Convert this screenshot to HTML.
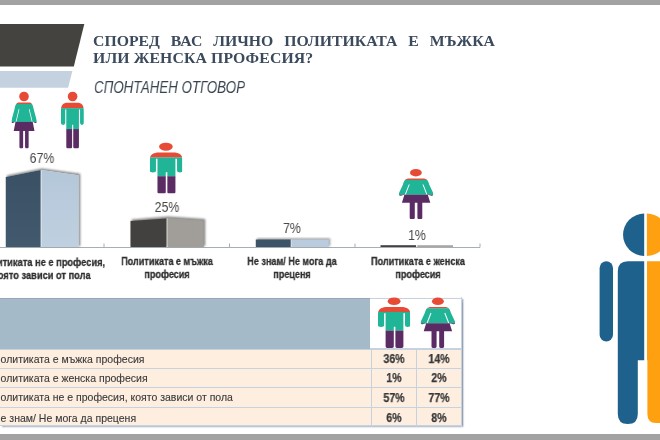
<!DOCTYPE html>
<html>
<head>
<meta charset="utf-8">
<style>
html,body{margin:0;padding:0;}
body{width:660px;height:440px;position:relative;overflow:hidden;background:#fff;font-family:"Liberation Sans",sans-serif;}
.abs{position:absolute;}
#topbar{left:0;top:0;width:660px;height:5px;background:#a2a2a2;}
#botbar{left:0;top:434.4px;width:660px;height:6px;background:#a2a2a2;}
#title{will-change:transform;left:93px;top:32.6px;width:372.2px;font-family:"Liberation Serif",serif;font-weight:bold;font-size:14.6px;line-height:16.7px;color:#3b4a5c;white-space:nowrap;transform-origin:0 0;transform:scaleX(1.08);}
#title .l1{display:block;width:372.2px;text-align:justify;text-align-last:justify;white-space:normal;}
#title .l2{display:block;letter-spacing:0.11px;}
#sub{will-change:transform;left:94px;top:78px;font-style:italic;font-size:16.2px;line-height:18px;color:#36434f;white-space:nowrap;transform-origin:0 0;transform:scaleX(0.822);}
.pct{will-change:transform;font-size:14.2px;line-height:12px;color:#484848;white-space:nowrap;text-align:center;width:60px;transform:scaleX(0.87);transform-origin:50% 0;}
.lab{will-change:transform;-webkit-text-stroke:0.3px #2e2e2e;font-weight:bold;font-size:11px;line-height:13px;color:#2e2e2e;text-align:center;white-space:nowrap;width:200px;transform:scaleX(0.825);transform-origin:50% 0;}
.row{left:0;width:462px;background:#fdeee0;border-top:1px solid #c6d3df;box-sizing:border-box;}
.rt{-webkit-text-stroke:0.12px #3a3a3a;position:absolute;left:-7px;top:0;font-size:10.5px;color:#3a3a3a;white-space:nowrap;will-change:transform;}
.num{will-change:transform;-webkit-text-stroke:0.25px #383838;position:absolute;top:0.3px;width:46px;text-align:center;font-weight:bold;font-size:12px;color:#383838;transform:scaleX(0.88);}
</style>
</head>
<body>
<div class="abs" id="topbar"></div>
<div class="abs" id="botbar"></div>

<!-- main graphics layer -->
<svg class="abs" style="left:0;top:0" width="660" height="440" viewBox="0 0 660 440">
  <defs>
    <!-- male icon: 32.4 x 50 -->
    <symbol id="male" viewBox="0 0 32.4 50" preserveAspectRatio="none">
      <clipPath id="mclip"><path d="M0,16.8 C0,11.5 3,9.5 9.5,9.5 L22.9,9.5 C29.4,9.5 32.4,11.5 32.4,16.8 L32.4,27.6 Q32.4,29.2 29.7,29.2 Q27,29.2 27,27.6 L27,15.6 L25.4,15.6 L25.4,48.6 Q25.4,50 23.8,50 L19,50 Q17.4,50 17.4,48.6 L17.4,29 L15.8,29 L15.8,48.6 Q15.8,50 14.2,50 L9.2,50 Q7.6,50 7.6,48.6 L7.6,15.6 L6.1,15.6 L6.1,27.6 Q6.1,29.2 3.05,29.2 Q0,29.2 0,27.6 Z"/></clipPath>
      <g clip-path="url(#mclip)">
        <rect x="0" y="8" width="32.4" height="6.5" fill="#e74b36"/>
        <rect x="0" y="14.4" width="32.4" height="18.6" fill="#1fb596"/>
        <rect x="0" y="32.9" width="32.4" height="18" fill="#5b2c64"/>
      </g>
    </symbol>
    <!-- female icon: 35 x 50 -->
    <symbol id="female" viewBox="0 0 35 50" preserveAspectRatio="none">
      <clipPath id="fclip"><path d="M10.5,9.5 L24.5,9.5 C28,9.5 29.6,11.5 30.6,15.5 L34.7,24.2 Q35.4,26.8 33,26.6 L29.2,25.6 L31.7,33.6 L23.7,33.6 L23.7,48.6 Q23.7,50 22.3,50 L20.2,50 Q18.8,50 18.8,48.6 L18.8,33.6 L16.2,33.6 L16.2,48.6 Q16.2,50 14.8,50 L12.5,50 Q11.1,50 11.1,48.6 L11.1,33.6 L3.3,33.6 L5.8,25.6 L2,26.6 Q-0.4,26.8 0.3,24.2 L4.4,15.5 C5.4,11.5 7,9.5 10.5,9.5 Z"/></clipPath>
      <g clip-path="url(#fclip)">
        <rect x="0" y="8" width="35" height="3" fill="#e74b36"/>
        <rect x="0" y="10.8" width="35" height="14.9" fill="#1fb596"/>
        <rect x="0" y="25.6" width="35" height="25" fill="#5b2c64"/>
      </g>
      <line x1="10.6" y1="15.4" x2="6.7" y2="25.4" stroke="#fff" stroke-width="1"/>
      <line x1="24.4" y1="15.4" x2="28.3" y2="25.4" stroke="#fff" stroke-width="1"/>
    </symbol>
    <!-- female icon: 35 x 50 -->
    <symbol id="femaleT" viewBox="0 0 35 50" preserveAspectRatio="none">
      <clipPath id="fclipT"><path d="M10.5,9.5 L24.5,9.5 C28,9.5 29.6,11.5 30.6,15.5 L34.7,25.2 Q35.4,27.8 33,27.6 L29.2,26.6 L31.7,34.7 L23.7,34.7 L23.7,48.6 Q23.7,50 22.3,50 L20.2,50 Q18.8,50 18.8,48.6 L18.8,34.7 L16.2,34.7 L16.2,48.6 Q16.2,50 14.8,50 L12.5,50 Q11.1,50 11.1,48.6 L11.1,34.7 L3.3,34.7 L5.8,26.6 L2,27.6 Q-0.4,27.8 0.3,25.2 L4.4,15.5 C5.4,11.5 7,9.5 10.5,9.5 Z"/></clipPath>
      <g clip-path="url(#fclipT)">
        <rect x="0" y="8" width="35" height="3" fill="#e74b36"/>
        <rect x="0" y="10.8" width="35" height="16" fill="#1fb596"/>
        <rect x="0" y="26.7" width="35" height="25" fill="#5b2c64"/>
      </g>
      <line x1="10.6" y1="15.4" x2="6.5" y2="26.4" stroke="#fff" stroke-width="1"/>
      <line x1="24.4" y1="15.4" x2="28.5" y2="26.4" stroke="#fff" stroke-width="1"/>
    </symbol>
    <linearGradient id="gDark" x1="0" y1="0" x2="0" y2="1"><stop offset="0" stop-color="#3a5064"/><stop offset="1" stop-color="#42596e"/></linearGradient>
    <linearGradient id="gLight" x1="0" y1="0" x2="0" y2="1"><stop offset="0" stop-color="#b4c7d9"/><stop offset="1" stop-color="#bfd0e0"/></linearGradient>
    <clipPath id="b1c"><polygon points="5.8,177 40.6,170 41.6,170 78.7,175.3 78.7,247 5.8,247"/></clipPath>
    <filter id="sh" x="-10%" y="-10%" width="130%" height="130%"><feGaussianBlur stdDeviation="0.9"/></filter>
  </defs>

  <!-- top-left trapezoids -->
  <polygon points="0,24 84.3,24 73.8,66.6 0,66.6" fill="#45433f"/>
  <polygon points="0,71 72.4,71 68.1,87.8 0,87.8" fill="#c4d2e0"/>

  <!-- axis -->
  <line x1="0" y1="247.5" x2="480" y2="247.5" stroke="#a6aeb8" stroke-width="1"/>
  <g stroke="#a6aeb8" stroke-width="1">
    <line x1="104" y1="243.5" x2="104" y2="247.5"/>
    <line x1="229.5" y1="243.5" x2="229.5" y2="247.5"/>
    <line x1="355" y1="243.5" x2="355" y2="247.5"/>
    <line x1="480" y1="243.5" x2="480" y2="247.5"/>
  </g>

  <!-- bar 1 -->
  <polygon points="7,175.5 42,168.5 80.2,173.8 80.2,246 7,246" fill="#555" opacity="0.72" filter="url(#sh)"/>
  <rect x="5.8" y="169" width="73" height="78" fill="#e4e9ee" clip-path="url(#b1c)"/>
  <polygon points="5.8,177 40.6,170 40.6,247 5.8,247" fill="url(#gDark)"/>
  <polygon points="41.6,170 78.7,175.3 78.7,247 41.6,247" fill="url(#gLight)"/>
  <!-- bar 2 -->
  <polygon points="131.7,219.5 168,216.6 205.2,219 205.2,246 131.7,246" fill="#555" opacity="0.72" filter="url(#sh)"/>
  <polygon points="130.5,221 166.6,218.4 166.6,247 130.5,247" fill="#43413f"/>
  <polygon points="166.6,218.4 167.8,218 167.8,247 166.6,247" fill="#d9d8d6"/>
  <polygon points="167.8,218 203.8,220.4 203.8,247 167.8,247" fill="#a19d98"/>
  <!-- bar 3 -->
  <polygon points="257,238.3 330.2,238.3 330.2,246 257,246" fill="#555" opacity="0.55" filter="url(#sh)"/>
  <rect x="255.8" y="239.5" width="35" height="7.5" fill="#3d5468"/>
  <rect x="290.8" y="239.5" width="1" height="7.5" fill="#e4e9ee"/>
  <rect x="291.8" y="239.5" width="37" height="7.5" fill="#b9cbdc"/>
  <!-- bar 4 -->
  <rect x="380.5" y="245.2" width="35.6" height="1.8" fill="#43413f"/>
  <rect x="417.3" y="245.2" width="35.7" height="1.8" fill="#a9a7a4"/>

  <!-- icons -->
  <use href="#femaleT" x="11.3" y="91.7" width="25.6" height="56.7"/>
  <circle cx="24" cy="96.5" r="4.8" fill="#e74b36"/>
  <use href="#male" x="60.9" y="91.9" width="23" height="56.5"/>
  <circle cx="72.6" cy="96.5" r="4.8" fill="#e74b36"/>
  <use href="#male" x="149.8" y="142.8" width="32.7" height="50.8"/>
  <ellipse cx="165.9" cy="146.7" rx="6.8" ry="4" fill="#e74b36"/>
  <use href="#female" x="398.6" y="169.1" width="35" height="50"/>
  <ellipse cx="415.9" cy="172.7" rx="5.9" ry="3.7" fill="#e74b36"/>

  <!-- big figure right -->
  <g fill="#1f618d">
    <path d="M644.2,213.6 A21.15,21.15 0 0 0 644.2,255.9 Z"/>
    <rect x="599.6" y="261.2" width="13.4" height="80.3" rx="6.7" ry="6.7"/>
    <path d="M617.8,271.2 Q617.8,261.2 627.8,261.2 L644.2,261.2 L644.2,360.2 L637.8,360.2 L637.8,414 Q637.8,424 627.8,424 Q617.8,424 617.8,414 Z"/>
  </g>
  <g fill="#ffa010">
    <path d="M646.9,213.6 A21.15,21.15 0 0 1 646.9,255.9 Z"/>
    <path d="M647,261.2 L660,261.2 L660,423 L656,423 Q647.4,423 647.4,414 L647.4,360.2 L647,360.2 Z"/>
  </g>
</svg>

<!-- percent labels -->
<div class="abs pct" style="left:11.7px;top:152px;">67%</div>
<div class="abs pct" style="left:137px;top:200.8px;">25%</div>
<div class="abs pct" style="left:262.3px;top:221.7px;">7%</div>
<div class="abs pct" style="left:387.3px;top:228.5px;">1%</div>

<!-- title -->
<div class="abs" id="title"><span class="l1">СПОРЕД ВАС ЛИЧНО ПОЛИТИКАТА Е МЪЖКА</span><span class="l2">ИЛИ ЖЕНСКА ПРОФЕСИЯ?</span></div>
<div class="abs" id="sub">СПОНТАНЕН ОТГОВОР</div>

<!-- category labels -->
<div class="abs lab" style="left:-58.2px;top:255.8px;transform:scaleX(0.845);">Политиката не е професия,<br>която зависи от пола</div>
<div class="abs lab" style="left:66.8px;top:255.4px;">Политиката е мъжка<br>професия</div>
<div class="abs lab" style="left:192.3px;top:255.4px;">Не знам/ Не мога да<br>преценя</div>
<div class="abs lab" style="left:317.5px;top:255.4px;">Политиката е женска<br>професия</div>

<!-- table -->
<div class="abs" style="left:0;top:297.9px;width:462px;height:128.4px;box-shadow:1.5px 1px 1.5px rgba(80,100,130,0.6);background:#fdeee0;"></div>
<div class="abs" style="left:0;top:297.9px;width:370.4px;height:51.3px;background:#a5bac9;border-top:1px solid #9ca6b8;box-sizing:border-box;"></div>
<div class="abs" style="left:370.4px;top:297.9px;width:91.6px;height:51.3px;background:#fff;box-sizing:border-box;border:1px solid #c6d3df;border-left:none;"></div>
<div class="abs" style="left:461px;top:297.4px;width:1px;height:129.4px;background:#c6d3df;"></div>

<div class="abs row" style="top:349.1px;height:18.9px;line-height:18.4px;"><span class="rt">Политиката е мъжка професия</span><span class="num" style="left:370.5px">36%</span><span class="num" style="left:416px">14%</span></div>
<div class="abs row" style="top:368px;height:19.4px;line-height:19.8px;"><span class="rt">Политиката е женска професия</span><span class="num" style="left:370.5px">1%</span><span class="num" style="left:416px">2%</span></div>
<div class="abs row" style="top:387.4px;height:19.8px;line-height:19.2px;"><span class="rt">Политиката не е професия, която зависи от пола</span><span class="num" style="left:370.5px">57%</span><span class="num" style="left:416px">77%</span></div>
<div class="abs row" style="top:407.2px;height:19.1px;line-height:20.6px;border-bottom:1px solid #c6d3df;"><span class="rt">Не знам/ Не мога да преценя</span><span class="num" style="left:370.5px">6%</span><span class="num" style="left:416px">8%</span></div>

<!-- table icons -->
<svg class="abs" style="left:0;top:0;pointer-events:none" width="660" height="440" viewBox="0 0 660 440">
  <use href="#male" x="378" y="297.4" width="32.4" height="50.5"/>
  <ellipse cx="394.1" cy="301.3" rx="6.4" ry="3.8" fill="#e74b36"/>
  <use href="#female" x="420.4" y="297.4" width="35" height="50.5"/>
  <ellipse cx="437.9" cy="301.3" rx="6" ry="3.7" fill="#e74b36"/>
  <!-- column separator lines over rows -->
  <g stroke="#c6d3df" stroke-width="1">
    <line x1="371.5" y1="349" x2="371.5" y2="426.3"/>
    <line x1="416.5" y1="349" x2="416.5" y2="426.3"/>
    <line x1="461.5" y1="297.9" x2="461.5" y2="426.3"/>
  </g>
</svg>
</body>
</html>
